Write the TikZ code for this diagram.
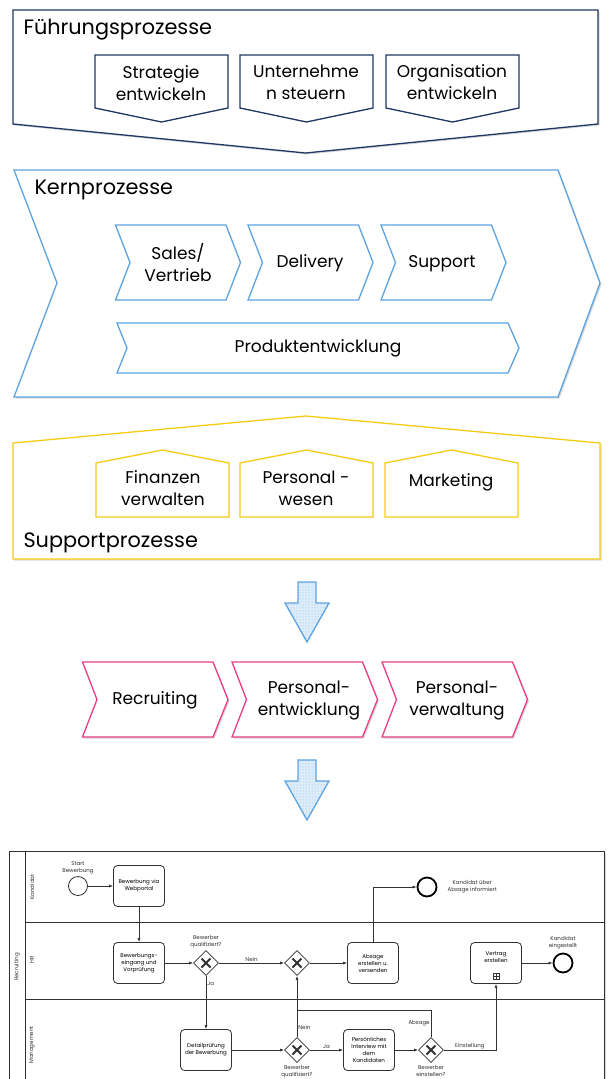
\documentclass[tikz,border=0pt]{standalone}
\usepackage{fontspec}
\setmainfont{Poppins}
\usetikzlibrary{calc, shapes, shadows, patterns, arrows.meta, positioning}

\definecolor{fuehrblau}{RGB}{31,56,100}
\definecolor{kernblau}{RGB}{93,163,226}
\definecolor{suppgelb}{RGB}{246,204,18}
\definecolor{hrpink}{RGB}{233,62,132}
\definecolor{bpmngrau}{RGB}{50,50,50}

\tikzset{
  schatten/.style={drop shadow={opacity=0.3, shadow xshift=1.5pt, shadow yshift=-1.5pt}},
  rahmen/.style={draw=#1, line width=1.3pt, fill=white},
  titel/.style={anchor=west, font=\fontsize{20.8}{24}\selectfont},
  beschr/.style={align=center, font=\fontsize{17}{22}\selectfont},
  pfeil/.style={draw=kernblau, line width=1.3pt, preaction={fill=kernblau!20}, pattern=dots, pattern color=kernblau!80},
  task/.style={draw=bpmngrau, rounded corners=4pt, minimum width=51pt, minimum height=41pt, align=center, inner sep=1pt, line width=0.8pt, fill=white, font=\fontsize{5.5}{7}\selectfont},
  gate/.style={diamond, draw=bpmngrau, minimum size=25pt, inner sep=0pt, line width=0.8pt, fill=white,
    path picture={\draw[line width=1.8pt] ($(path picture bounding box.center)+(-4.5pt,-4.5pt)$) -- ($(path picture bounding box.center)+(4.5pt,4.5pt)$) ($(path picture bounding box.center)+(-4.5pt,4.5pt)$) -- ($(path picture bounding box.center)+(4.5pt,-4.5pt)$);}},
  evstart/.style={circle, draw=bpmngrau, minimum size=19pt, inner sep=0pt, line width=0.8pt, fill=white},
  evend/.style={evstart, line width=1.8pt, draw=black},
  flow/.style={draw=bpmngrau, line width=0.7pt, -{Latex[length=4pt,width=3pt]}},
  klein/.style={font=\fontsize{5.5}{7}\selectfont, align=center, text=bpmngrau, inner sep=1pt},
  bahn/.style={klein, rotate=90}
}

\begin{document}
\begin{tikzpicture}[x=1pt, y=-1pt]
\useasboundingbox (0,0) rectangle (611,1079);

% Fuehrungsprozesse
\draw[rahmen=fuehrblau, schatten] (13,10) -- (598,10) -- (598,124) -- (305.5,153) -- (13,124) -- cycle;
\foreach \x in {95,240,386}
  \draw[rahmen=fuehrblau] (\x,55) -- ++(133,0) -- ++(0,53) -- ++(-66.5,14) -- ++(-66.5,-14) -- cycle;
\node[titel] (tfuehr) at (20,30) {Führungsprozesse};
\node[beschr] (fstrat) at (161,83) {Strategie\\entwickeln};
\node[beschr] (funter) at (306,82) {Unternehme\\n steuern};
\node[beschr] (forga) at (452,82) {Organisation\\entwickeln};

% Kernprozesse
\draw[rahmen=kernblau, schatten] (14,170) -- (558,170) -- (600,283) -- (558,397) -- (14,397) -- (57,283) -- cycle;
\foreach \x in {115.5,248,381}
  \draw[rahmen=kernblau] (\x,225) -- ++(110.5,0) -- ++(14.5,37.5) -- ++(-14.5,37.5) -- ++(-110.5,0) -- ++(14.5,-37.5) -- cycle;
\draw[rahmen=kernblau] (117,323) -- (508,323) -- (519,348) -- (508,373) -- (117,373) -- (127,348) -- cycle;
\node[titel] (tkern) at (31,190) {Kernprozesse};
\node[beschr] (ksales) at (178,263) {Sales/\\Vertrieb};
\node[beschr] (kdeliv) at (310,263) {Delivery};
\node[beschr] (ksupp) at (442,264) {Support};
\node[beschr] (kprod) at (318,348) {Produktentwicklung};

% Supportprozesse
\draw[rahmen=suppgelb, schatten] (13,443) -- (306,416) -- (600,443) -- (600,559) -- (13,559) -- cycle;
\foreach \x in {96,240,385}
  \draw[rahmen=suppgelb] (\x,517) -- ++(0,-54) -- ++(66.5,-13) -- ++(66.5,13) -- ++(0,54) -- cycle;
\node[beschr] (sfin) at (163,488) {Finanzen\\verwalten};
\node[beschr] (spers) at (306,488) {Personal -\\wesen};
\node[beschr] (smark) at (451,482) {Marketing};
\node[titel] (tsupp) at (20,543) {Supportprozesse};

% Pfeile
\foreach \y in {582,760}
  \draw[pfeil] (298,\y) -- ++(18,0) -- ++(0,21) -- ++(13,0) -- ++(-22,39) -- ++(-22,-39) -- ++(13,0) -- cycle;

% Personalprozesse
\foreach \x in {82.5,232,382}
  \draw[rahmen=hrpink, schatten] (\x,662) -- ++(130.5,0) -- ++(15,37.5) -- ++(-15,37.5) -- ++(-130.5,0) -- ++(14.5,-37.5) -- cycle;
\node[beschr] (precr) at (155,700) {Recruiting};
\node[beschr] (pentw) at (309,700) {Personal-\\entwicklung};
\node[beschr] (pverw) at (457,700) {Personal-\\verwaltung};

% BPMN Recruiting
\draw[draw=bpmngrau, line width=0.9pt, fill=white, schatten] (9,851) rectangle (604,1095);
\draw[draw=bpmngrau, line width=0.8pt] (25,851) -- (25,1095) (25,922) -- (604,922) (25,999) -- (604,999);
\node[bahn] (lpool) at (17,967) {Recruiting};
\node[bahn] (lkand) at (32,887) {Kandidat};
\node[bahn] (lhr) at (32,960) {HR};
\node[bahn] (lmgmt) at (32,1045) {Management};

\node[evstart] (start) at (78,886) {};
\node[klein, above=1pt of start] (lstart) {Start\\Bewerbung};
\node[task] (t1) at (139,886) {Bewerbung via\\Webportal};
\node[task] (t2) at (139,963) {Bewerbungs-\\eingang und\\Vorprüfung};
\node[gate] (g1) at (206,963) {};
\node[klein, above=1pt of g1] (lg1) {Bewerber\\qualifiziert?};
\node[gate] (g2) at (297,963) {};
\node[task] (t3) at (373,963) {Absage\\erstellen u.\\versenden};
\node[evend] (e1) at (427,887) {};
\node[klein, right=9pt of e1] (le1) {Kandidat über\\Absage informiert};
\node[task] (t6) at (496,963) {Vertrag\\erstellen\\[4pt]};
\node[draw=bpmngrau, line width=0.5pt, minimum size=6pt, inner sep=0pt,
  path picture={\draw[line width=0.5pt] (path picture bounding box.north) -- (path picture bounding box.south) (path picture bounding box.west) -- (path picture bounding box.east);}]
  (msub) at (496,976) {};
\node[evend] (e2) at (563,963) {};
\node[klein, above=2pt of e2] (le2) {Kandidat\\eingestellt};
\node[task] (t4) at (206,1050) {Detailprüfung\\der Bewerbung};
\node[gate] (g3) at (297,1050) {};
\node[klein, below=1pt of g3] (lg3) {Bewerber\\qualifiziert?};
\node[task] (t5) at (369,1050) {Persönliches\\Interview mit\\dem\\Kandidaten};
\node[gate] (g4) at (431,1050) {};
\node[klein, below=1pt of g4] (lg4) {Bewerber\\einstellen?};
\coordinate (merge) at (297,1010);

\draw[flow] (start) -- (t1);
\draw[flow] (t1) -- (t2);
\draw[flow] (t2) -- (g1);
\draw[flow] (g1) -- node[klein, above] {Nein} (g2);
\draw[flow] (g2) -- (t3);
\draw[flow] (t3.north) |- (e1);
\draw[flow] (g1) -- node[klein, right, pos=0.15] {Ja} (t4);
\draw[flow] (t4) -- (g3);
\draw[flow] (g3) -- node[klein, right, pos=0.15] {Nein} (g2);
\draw[flow] (g3) -- node[klein, above] {Ja} (t5);
\draw[flow] (t5) -- (g4);
\draw[flow] (g4) -| node[klein, above, pos=0.25] {Einstellung} (t6);
\draw[draw=bpmngrau, line width=0.7pt] (g4.north) |- node[klein, left, pos=0.25] {Absage} (merge);
\draw[flow] (t6) -- (e2);
\end{tikzpicture}
\end{document}
